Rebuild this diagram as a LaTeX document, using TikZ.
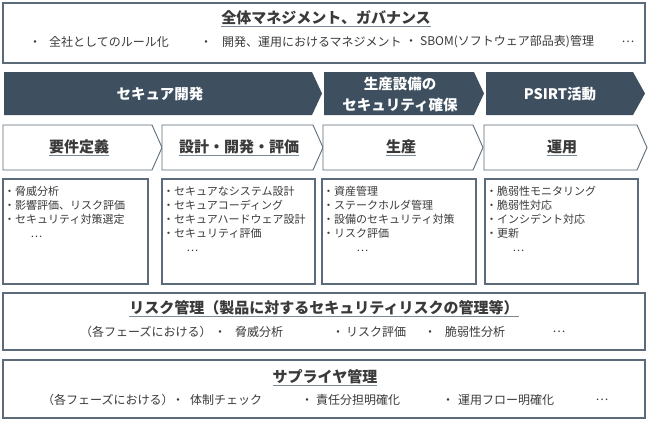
\documentclass[tikz,border=0pt]{standalone}
\usepackage{fontspec}
\setmainfont{Noto Sans CJK JP}
\definecolor{edge}{HTML}{5B6B79}
\definecolor{dark}{HTML}{3E5060}
\definecolor{txt}{HTML}{3A3A3A}
\definecolor{ulc}{HTML}{7C8893}
\newcommand{\bul}[1]{\llap{・\hspace{#1pt}}}
\begin{document}
\begin{tikzpicture}[x=1pt,y=-1pt,
  box/.style={draw=edge, line width=1.3pt},
  chevbox/.style={draw=edge, line width=0.9pt, fill=white},
  darkbox/.style={fill=dark},
  ttl/.style={font=\fontsize{15}{18}\selectfont\bfseries, text=txt, inner sep=0pt},
  wttl/.style={font=\fontsize{14.5}{21}\selectfont\bfseries, text=white, align=center, inner sep=0pt},
  item/.style={font=\fontsize{12}{14}\selectfont, text=txt, inner sep=0pt, anchor=west},
  list/.style={font=\fontsize{11}{14}\selectfont, text=txt, inner sep=0pt, anchor=north west, align=left},
  uline/.style={draw=ulc, line width=1.2pt}
]
\useasboundingbox (0,0) rectangle (650,424);
\fill[white] (0,0) rectangle (650,424);

% top management box
\draw[box] (3,3) rectangle (645,63);
\node[ttl] (t0) at (326,18) {全体マネジメント、ガバナンス};
\draw[uline] ([yshift=-3pt]t0.base west) -- ([yshift=-3pt]t0.base east);
\node[item] (i01) at (49,42) {\bul{8}全社としてのルール化};
\node[item] (i02) at (222,42) {\bul{10}開発、運用におけるマネジメント};
\node[item] (i03) at (420,42) {\bul{3}SBOM(ソフトウェア部品表)管理};
\node[item, anchor=center] (i04) at (628,42) {…};

% dark phase band
\fill[darkbox] (4,72) -- (312,72) -- (322,93.5) -- (312,115) -- (4,115) -- cycle;
\fill[darkbox] (324,72) -- (474,72) -- (484,93.5) -- (474,115) -- (324,115) -- cycle;
\fill[darkbox] (486,72) -- (633,72) -- (645,93.5) -- (633,115) -- (486,115) -- cycle;
\node[wttl] (d1) at (160,94) {セキュア開発};
\node[wttl] (d2) at (400,94) {生産設備の\\セキュリティ確保};
\node[wttl] (d3) at (560,94) {PSIRT活動};

% chevrons
\draw[chevbox] (3,125) -- (152,125) -- (162,147.5) -- (152,170) -- (3,170) -- cycle;
\draw[chevbox] (162,125) -- (313,125) -- (323,147.5) -- (313,170) -- (162,170) -- cycle;
\draw[chevbox] (323,125) -- (473,125) -- (483,147.5) -- (473,170) -- (323,170) -- cycle;
\draw[chevbox] (484,125) -- (637,125) -- (647,147.5) -- (637,170) -- (484,170) -- cycle;
\node[ttl] (c1) at (79,147) {要件定義};
\node[ttl] (c2) at (239,147) {設計・開発・評価};
\node[ttl] (c3) at (401,147) {生産};
\node[ttl] (c4) at (562,147) {運用};
\foreach \n in {c1,c2,c3,c4}
  \draw[uline] ([yshift=-3pt]\n.base west) -- ([yshift=-3pt]\n.base east);

% content boxes
\draw[box] (3,179) rectangle (148,284);
\draw[box] (162,179) rectangle (315,284);
\draw[box] (322,179) rectangle (476,284);
\draw[box] (485,179) rectangle (638,284);
\node[list] (l1) at (4,186) {・脅威分析\\・影響評価、リスク評価\\・セキュリティ対策選定\\\hspace*{26.5pt}…};
\node[list] (l2) at (163,186) {・セキュアなシステム設計\\・セキュアコーディング\\・セキュアハードウェア設計\\・セキュリティ評価\\\hspace*{23.5pt}…};
\node[list] (l3) at (323,186) {・資産管理\\・ステークホルダ管理\\・設備のセキュリティ対策\\・リスク評価\\\hspace*{33.5pt}…};
\node[list] (l4) at (486,186) {・脆弱性モニタリング\\・脆弱性対応\\・インシデント対応\\・更新\\\hspace*{26.5pt}…};

% risk management
\draw[box] (3,293) rectangle (645,350);
\node[ttl] (r0) at (324,308) {リスク管理（製品に対するセキュリティリスクの管理等）};
\draw[uline] ([yshift=-3pt]r0.base west) -- ([yshift=-3pt]r0.base east);
\node[item] (r1) at (80,332) {（各フェーズにおける）};
\node[item] (r2) at (235,332) {\bul{9}脅威分析};
\node[item] (r3) at (346,332) {\bul{2}リスク評価};
\node[item] (r4) at (445,332) {\bul{9}脆弱性分析};
\node[item, anchor=center] (r5) at (559,332) {…};

% supplier management
\draw[box] (3,360) rectangle (645,418);
\node[ttl] (s0) at (325,377) {サプライヤ管理};
\draw[uline] ([yshift=-3pt]s0.base west) -- ([yshift=-3pt]s0.base east);
\node[item] (s1) at (42,400) {（各フェーズにおける）};
\node[item] (s2) at (190,400) {\bul{6}体制チェック};
\node[item] (s3) at (316,400) {\bul{3}責任分担明確化};
\node[item] (s4) at (458,400) {\bul{4}運用フロー明確化};
\node[item, anchor=center] (s5) at (602,400) {…};
\end{tikzpicture}
\end{document}
